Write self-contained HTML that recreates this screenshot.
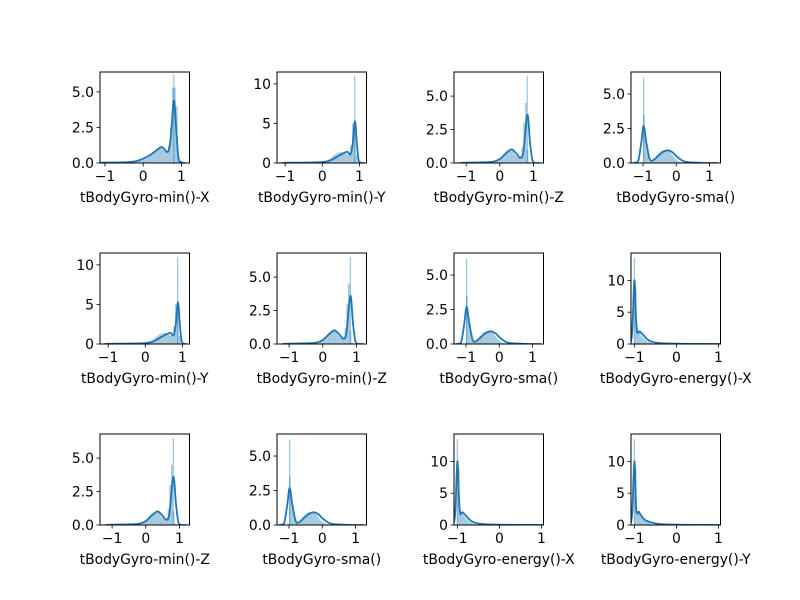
<!DOCTYPE html>
<html><head><meta charset="utf-8"><style>
body{margin:0;background:#fff}
svg{display:block}
text{font-family:"DejaVu Sans","Liberation Sans",sans-serif;font-size:13.9px;fill:#000}
</style></head><body>
<svg id="fig" width="800" height="600" viewBox="0 0 800 600" xmlns="http://www.w3.org/2000/svg"></svg>
<script>
// ---- data ----
const panelLabels = [
 "tBodyGyro-min()-X","tBodyGyro-min()-Y","tBodyGyro-min()-Z","tBodyGyro-sma()",
 "tBodyGyro-min()-Y","tBodyGyro-min()-Z","tBodyGyro-sma()","tBodyGyro-energy()-X",
 "tBodyGyro-min()-Z","tBodyGyro-sma()","tBodyGyro-energy()-X","tBodyGyro-energy()-Y"];
const panelDist = ["A","B","C","D","B","C","D","E","C","D","E","F"];
const histStart = -1, histWidth = 0.05;
const histA = [.05,.05,.05,.05,.05,.05,.05,.05,.05,.05,.05,.05,.05,.05,.05,.05,.1,.12,.15,.2,.25,.3,.4,.5,.6,.7,.8,.9,1.0,1.05,.95,.85,.8,1.2,2.5,5.3,5.3,4.0,.3,.02];
const histB = [.05,.05,.05,.05,.05,.05,.05,.05,.05,.05,.05,.05,.05,.05,.05,.05,.08,.1,.12,.15,.2,.25,.3,.45,.6,.8,1.0,1.2,1.3,1.35,1.4,1.3,1.2,1.1,1.2,2.2,5.0,5.2,1,.05];
const histC = [.05,.05,.05,.05,.05,.05,.05,.05,.05,.05,.05,.05,.05,.05,.05,.05,.08,.1,.15,.25,.35,.5,.7,.85,.95,1.0,1.0,.95,.8,.6,.45,.4,.55,1.2,3.0,4.5,1.0,.1,.02,0];
const histD = [3.5,2.0,1.0,.4,.2,.2,.3,.4,.6,.75,.85,.9,.95,.95,.9,.85,.75,.6,.45,.3,.2,.12,.08,.05,.03,.02,.02,.01,.01,.01,.01,.01,.01,.01,.01,.01,.01,.01,.01,.01];
const histE = [9,2.0,1.8,1.3,.9,.6,.4,.25,.15,.1,.08,.07,.06,.05,.04,.04,.03,.03,.02,.02,.01,.01,.01,.01,.01,.01,.01,.01,.01,.01,.01,.01,.01,.01,.01,.01,.01,.01,.01,.01];
const histF = [9,2.2,2.0,1.3,.9,.6,.4,.25,.15,.1,.08,.07,.06,.05,.04,.04,.03,.03,.02,.02,.01,.01,.01,.01,.01,.01,.01,.01,.01,.01,.01,.01,.01,.01,.01,.01,.01,.01,.01,.01];
const spikeA = [0.80,6.2], spikeB = [0.87,11], spikeC = [0.82,6.5], spikeD = [-0.98,6.2], spikeE = [-1.0,13.5], spikeF = [-1.0,13.5];
const kdeXA = [-1.13,-1,-0.5,-0.2,0,0.2,0.4,0.48,0.55,0.65,0.72,0.8,0.86,0.92,1.0,1.1];
const kdeYA = [0.01,0.03,0.05,0.12,0.3,0.6,1.0,1.12,1.0,0.8,1.8,4.4,2.5,0.4,0.05,0];
const kdeXB = [-1.1,-1,-0.5,0,0.2,0.4,0.6,0.68,0.76,0.82,0.88,0.93,0.98,1.05,1.12];
const kdeYB = [0,0.03,0.05,0.12,0.3,0.8,1.3,1.4,1.1,2.5,5.3,2.5,0.3,0.02,0];
const kdeXC = [-1.2,-1,-0.5,-0.2,0,0.2,0.35,0.5,0.6,0.7,0.82,0.9,0.97,1.05,1.2];
const kdeYC = [0,0.03,0.05,0.1,0.3,0.75,1.02,0.7,0.4,0.8,3.6,1.5,0.2,0.01,0];
const kdeXD = [-1.3,-1.15,-1.05,-0.98,-0.9,-0.8,-0.7,-0.55,-0.4,-0.25,-0.1,0,0.2,0.4,0.8,1.25];
const kdeYD = [0,0.1,1.5,2.7,1.5,0.3,0.2,0.5,0.8,0.92,0.75,0.5,0.15,0.05,0.01,0];
const kdeXE = [-1.1,-1.05,-1.0,-0.96,-0.93,-0.88,-0.8,-0.7,-0.6,-0.4,0,0.5,1.05];
const kdeYE = [0,2,10,4,1.8,2.0,1.5,0.8,0.4,0.15,0.05,0.02,0];
const kdeXF = [-1.1,-1.05,-1.0,-0.96,-0.93,-0.9,-0.85,-0.75,-0.6,-0.4,0,0.5,1.05];
const kdeYF = [0,2,10,3,1.8,2.1,1.6,0.8,0.4,0.15,0.05,0.02,0];
const xLimA=[-1.13,1.21], xLimB=[-1.22,1.19], xLimC=[-1.36,1.3], xLimD=[-1.36,1.33], xLimE=[-1.08,1.05], xLimF=[-1.08,1.05];
const yLimA=[0,6.4], yLimB=[0,11.5], yLimC=[0,6.8], yLimD=[0,6.6], yLimE=[0,14.3], yLimF=[0,14.3];
const xTicks = [-1,0,1];
const yTicksSmall = [0,2.5,5], yTickLabelsSmall = ["0.0","2.5","5.0"];
const yTicksBig = [0,5,10], yTickLabelsBig = ["0","5","10"];

const D = {
 A:{h:histA,s:spikeA,kx:kdeXA,ky:kdeYA,xl:xLimA,yl:yLimA,big:false},
 B:{h:histB,s:spikeB,kx:kdeXB,ky:kdeYB,xl:xLimB,yl:yLimB,big:true},
 C:{h:histC,s:spikeC,kx:kdeXC,ky:kdeYC,xl:xLimC,yl:yLimC,big:false},
 D:{h:histD,s:spikeD,kx:kdeXD,ky:kdeYD,xl:xLimD,yl:yLimD,big:false},
 E:{h:histE,s:spikeE,kx:kdeXE,ky:kdeYE,xl:xLimE,yl:yLimE,big:true},
 F:{h:histF,s:spikeF,kx:kdeXF,ky:kdeYF,xl:xLimF,yl:yLimF,big:true}};

const NS="http://www.w3.org/2000/svg";
const fig=document.getElementById('fig');
function mk(tag,attrs,parent){const e=document.createElementNS(NS,tag);for(const k in attrs)e.setAttribute(k,attrs[k]);parent.appendChild(e);return e;}
const W=89.5,H=91;
panelLabels.forEach((lab,i)=>{
  const col=i%4,row=Math.floor(i/4);
  const L=100+col*177,T=72+row*181,B=T+H,R=L+W;
  const d=D[panelDist[i]];
  const sx=v=>L+(v-d.xl[0])/(d.xl[1]-d.xl[0])*W;
  const sy=v=>B-(v-d.yl[0])/(d.yl[1]-d.yl[0])*H;
  const g=mk('g',{},fig);
  
  
  const cid='clip'+i;
  const cp=mk('clipPath',{id:cid},g);mk('rect',{x:L,y:T,width:W,height:H},cp);
  const pg=mk('g',{'clip-path':'url(#'+cid+')'},g);
  d.h.forEach((v,j)=>{
    const x0=histStart+j*histWidth;
    const r=mk('rect',{x:sx(x0),y:sy(v),width:sx(x0+histWidth)-sx(x0),height:B-sy(v),fill:'#1f77b4','fill-opacity':0.4},pg);
    
    
  });
  const sp=mk('rect',{x:sx(d.s[0])-0.7,y:sy(d.s[1]),width:1.4,height:B-sy(d.s[1]),fill:'#1f77b4','fill-opacity':0.4},pg);
  
  
  const P=d.kx.map((x,j)=>[sx(x),sy(d.ky[j])]);
  let p='M'+P[0][0]+','+P[0][1];
  for(let j=0;j<P.length-1;j++){
    const p0=P[Math.max(0,j-1)],p1=P[j],p2=P[j+1],p3=P[Math.min(P.length-1,j+2)];
    const c1=[p1[0]+(p2[0]-p0[0])/6,p1[1]+(p2[1]-p0[1])/6];
    const c2=[p2[0]-(p3[0]-p1[0])/6,p2[1]-(p3[1]-p1[1])/6];
    c1[1]=Math.min(c1[1],B);c2[1]=Math.min(c2[1],B);
    p+=' C'+c1+' '+c2+' '+p2;
  }
  const kp=mk('path',{d:p,fill:'none',stroke:'#1f77b4','stroke-width':1.8,'stroke-linejoin':'round'},pg);
  
  
  const fr=mk('rect',{x:L,y:T,width:W,height:H,fill:'none',stroke:'#000','stroke-width':1},g);
  
  
  xTicks.forEach(t=>{
    const x=sx(t);
    mk('line',{x1:x,x2:x,y1:B,y2:B+3.5,stroke:'#000','stroke-width':0.8},g);
    const tx=mk('text',{x:x,y:B+18,'text-anchor':'middle'},g);
    tx.textContent=t<0?'\u2212'+Math.abs(t):String(t);
    
    
  });
  const yt=d.big?yTicksBig:yTicksSmall, yl=d.big?yTickLabelsBig:yTickLabelsSmall;
  yt.forEach((t,j)=>{
    const y=sy(t);
    mk('line',{x1:L-3.5,x2:L,y1:y,y2:y,stroke:'#000','stroke-width':0.8},g);
    const tx=mk('text',{x:L-6,y:y+5,'text-anchor':'end'},g);
    tx.textContent=yl[j];
    
    
  });
  const xt=mk('text',{x:L+W/2,y:B+39,'text-anchor':'middle'},g);
  xt.textContent=lab;
  
  
});
</script>
</body></html>
